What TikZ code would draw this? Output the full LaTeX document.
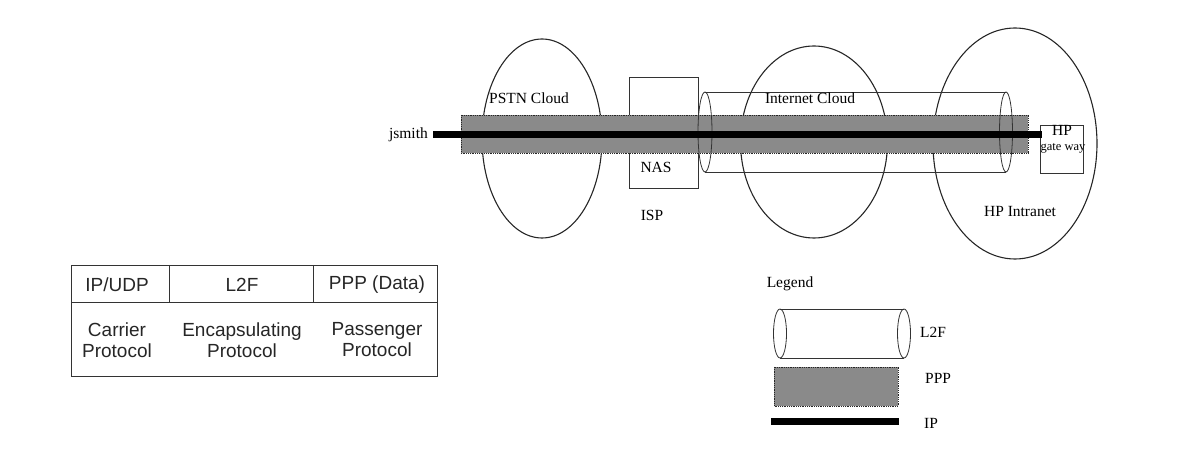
\documentclass[tikz,border=0pt]{standalone}
\usepackage{fontspec}
\setmainfont{Liberation Serif}
\setsansfont{Liberation Sans}
\tikzset{
  cloud/.style={draw=black!85, line width=1.1pt},
  boxline/.style={draw=black!80, line width=0.7pt},
  tube/.style={draw=black!80, line width=0.8pt},
  pppband/.style={fill={rgb,255:red,138;green,138;blue,138}, draw=black!85, line width=0.8pt, densely dotted},
  ipline/.style={line width=7pt, black},
  lbl/.style={font=\fontsize{15.5}{16}\selectfont, inner sep=0pt},
  tbl/.style={font=\sffamily\fontsize{19}{21}\selectfont, inner sep=0pt, align=center, text=black!85},
}
\begin{document}
\begin{tikzpicture}[x=1pt,y=-1pt]
\useasboundingbox (0,0) rectangle (1192,470);
% clouds
\draw[cloud] (542,138.5) ellipse [x radius=60, y radius=99.5];
\draw[cloud] (814,142) ellipse [x radius=73.5, y radius=96];
\draw[cloud] (1015,143.5) ellipse [x radius=82, y radius=115.5];
% NAS box and HP gateway box
\draw[boxline] (629,77) rectangle (698,188);
\draw[boxline] (1040,125) rectangle (1083,173);
% L2F tube
\draw[tube] (705,92) -- (1006,92);
\draw[tube] (705,172) -- (1006,172);
% PPP band
\fill[pppband] (461,115) rectangle (1028,153);
\draw[pppband] (461,115) rectangle (1028,153);
% tube end ellipses
\draw[tube] (705,132) ellipse [x radius=7, y radius=40];
\draw[tube] (1006,132) ellipse [x radius=6.5, y radius=40];
% IP line
\coordinate (ipL) at (433,135);
\coordinate (ipR) at (1042,135);
\draw[ipline] (ipL) -- (ipR);
% labels
\node[lbl, anchor=east] (js) at (428,135) {jsmith};
\node[lbl] (pstn) at (529,98) {PSTN Cloud};
\node[lbl] (nas) at (656,167) {NAS};
\node[lbl] (isp) at (652,215) {ISP};
\node[lbl] (inet) at (810,98) {Internet Cloud};
\node[lbl, anchor=base] (hp) at (1062,136) {HP};
\node[lbl, anchor=base, font=\fontsize{12.5}{13}\selectfont] (gw) at (1063,151) {gate way};
\node[lbl] (hpi) at (1020,212) {HP Intranet};
% table
\draw[boxline] (71,265) rectangle (437,376);
\draw[boxline] (71,302) -- (437,302);
\draw[boxline] (169,265) -- (169,302);
\draw[boxline] (313,265) -- (313,302);
\node[tbl] (t1) at (117,285) {IP/UDP};
\node[tbl] (t2) at (242,285) {L2F};
\node[tbl] (t3) at (377,285) {PPP (Data)};
\node[tbl] (t4) at (117,340) {Carrier\\Protocol};
\node[tbl] (t5) at (242,340) {Encapsulating\\Protocol};
\node[tbl] (t6) at (377,340) {Passenger\\Protocol};
% legend
\node[lbl] (leg) at (790,284) {Legend};
\draw[tube] (780,309) -- (904,309);
\draw[tube] (780,358) -- (904,358);
\draw[tube] (780,333.5) ellipse [x radius=6.5, y radius=24.5];
\draw[tube] (904,333.5) ellipse [x radius=6.5, y radius=24.5];
\node[lbl, anchor=west] (l2f) at (920,332) {L2F};
\fill[pppband] (774,367) rectangle (898,406);
\draw[pppband] (774,367) rectangle (898,406);
\node[lbl, anchor=west] (ppp) at (925,378) {PPP};
\coordinate (lipL) at (771,421.5);
\coordinate (lipR) at (899,421.5);
\draw[ipline] (lipL) -- (lipR);
\node[lbl, anchor=west] (ip) at (924,423) {IP};
\end{tikzpicture}
\end{document}
